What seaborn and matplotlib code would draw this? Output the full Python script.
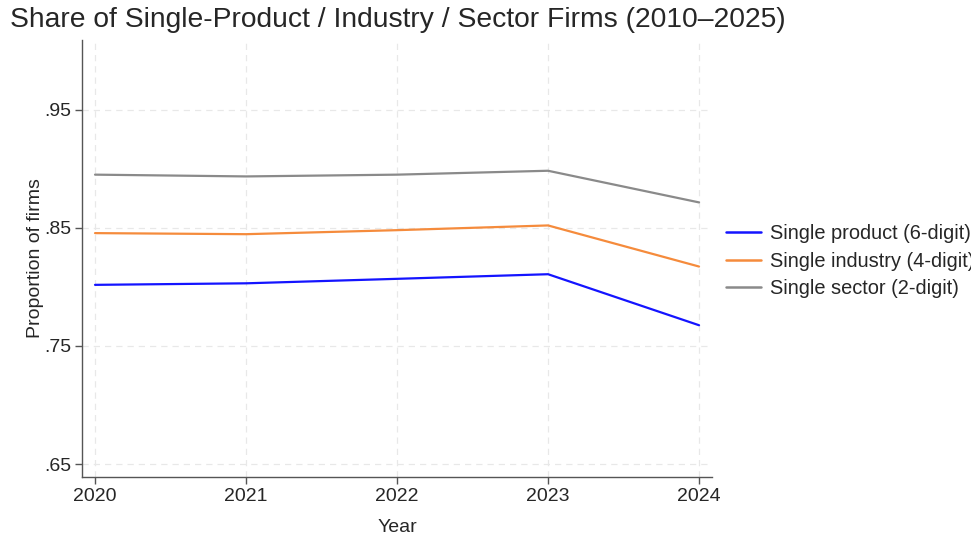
import pandas as pd
import matplotlib.pyplot as plt
import seaborn as sns
from matplotlib.ticker import FuncFormatter

# values
years = [2020, 2021, 2022, 2023, 2024]
single_product = [0.8017, 0.8030, 0.8068, 0.8107, 0.7675]
single_industry = [0.8455, 0.8446, 0.8480, 0.8520, 0.8172]
single_sector = [0.8950, 0.8935, 0.8950, 0.8983, 0.8715]
series_names = ['Single product (6-digit)', 'Single industry (4-digit)', 'Single sector (2-digit)']
colors = ['#1414ff', '#f58b3c', '#8a8a8a']
y_ticks = [0.65, 0.75, 0.85, 0.95]

# long format for seaborn
rows = []
for name, vals in zip(series_names, [single_product, single_industry, single_sector]):
    for yr, v in zip(years, vals):
        rows.append({'Year': yr, 'share': v, 'series': name})
df = pd.DataFrame(rows)

sns.set_style("white")
plt.rcParams['font.family'] = ['Liberation Sans', 'DejaVu Sans']

fig = plt.figure(figsize=(9.71, 5.37), dpi=100)
ax = fig.add_axes([0.0845, 0.1117, 0.6488, 0.8138])

sns.lineplot(data=df, x='Year', y='share', hue='series', palette=colors,
             hue_order=series_names, linewidth=1.6, ax=ax, legend=False)

ax.set_xlim(2019.914, 2024.086)
ax.set_ylim(0.639, 1.009)
ax.set_xticks(years)
ax.set_yticks(y_ticks)
ax.yaxis.set_major_formatter(FuncFormatter(lambda v, p: f'{v:.2f}'.lstrip('0')))

# dashed light grid
ax.grid(True, linestyle=(0, (5, 4)), color='#e8e8e8', linewidth=0.9)
ax.set_axisbelow(True)

for s in ['top', 'right']:
    ax.spines[s].set_visible(False)
for s in ['left', 'bottom']:
    ax.spines[s].set_color('#555555')
    ax.spines[s].set_linewidth(1.0)
ax.tick_params(axis='both', which='major', length=5, width=1.0, color='#555555',
               labelsize=14, direction='out', bottom=True, left=True, pad=3)

ax.set_xlabel('Year', fontsize=14, labelpad=10)
ax.set_ylabel('Proportion of firms', fontsize=14, labelpad=0)

fig.text(0.010, 0.963, 'Share of Single-Product / Industry / Sector Firms (2010\u20132025)',
         fontsize=20.3, ha='left', va='center')

handles = [plt.Line2D([], [], color=c, linewidth=1.8) for c in colors]
fig.legend(handles, series_names, loc='upper left', bbox_to_anchor=(0.748, 0.582),
           frameon=False, fontsize=14.4, handlelength=1.75, handletextpad=0.42,
           labelspacing=0.42, borderpad=0, borderaxespad=0)

plt.savefig('out.png', dpi=100)
